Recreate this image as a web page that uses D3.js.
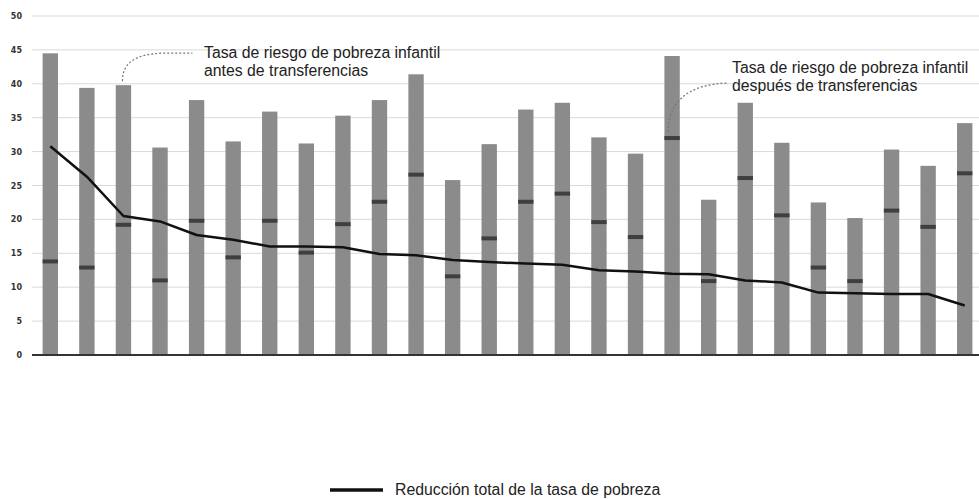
<!DOCTYPE html>
<html>
<head>
<meta charset="utf-8">
<script src="https://cdn.jsdelivr.net/npm/d3@7"></script>
<style>
  html, body { margin: 0; padding: 0; background: #fff; }
  svg { display: block; }
</style>
</head>
<body>
<svg id="chart" width="979" height="499"></svg>
<script>
// Data
const categories = ["c1","c2","c3","c4","c5","c6","c7","c8","c9","c10","c11","c12","c13","c14","c15","c16","c17","c18","c19","c20","c21","c22","c23","c24","c25","c26"];
const beforeTransfers = [44.5, 39.4, 39.8, 30.6, 37.6, 31.5, 35.9, 31.2, 35.3, 37.6, 41.4, 25.8, 31.1, 36.2, 37.2, 32.1, 29.7, 44.1, 22.9, 37.2, 31.3, 22.5, 20.2, 30.3, 27.9, 34.2];
const afterTransfers  = [13.8, 12.9, 19.2, 11.0, 19.8, 14.4, 19.8, 15.1, 19.3, 22.6, 26.6, 11.6, 17.2, 22.6, 23.8, 19.6, 17.4, 32.0, 10.9, 26.1, 20.6, 12.9, 10.9, 21.3, 18.9, 26.8];
const totalReduction  = [30.8, 26.3, 20.5, 19.7, 17.7, 17.0, 16.0, 16.0, 15.9, 14.9, 14.7, 14.0, 13.7, 13.5, 13.3, 12.5, 12.3, 12.0, 11.9, 11.0, 10.7, 9.2, 9.1, 9.0, 9.0, 7.3];
const yTicks = [0, 5, 10, 15, 20, 25, 30, 35, 40, 45, 50];
const legendLabel = "Reducción total de la tasa de pobreza";
const noteBefore = ["Tasa de riesgo de pobreza infantil", "antes de transferencias"];
const noteAfter = ["Tasa de riesgo de pobreza infantil", "después de transferencias"];

const svg = d3.select("#chart");
const font = "'Liberation Sans', Arial, Helvetica, sans-serif";

const x = d3.scaleBand().domain(categories).range([32, 983]).paddingInner(0.58).paddingOuter(0.29);
const y = d3.scaleLinear().domain([0, 50]).range([355, 16]);

// gridlines
svg.append("g").selectAll("line").data(yTicks.filter(d => d > 0)).join("line")
  .attr("x1", 32).attr("x2", 979)
  .attr("y1", d => y(d)).attr("y2", d => y(d))
  .attr("stroke", "#d9d9d9").attr("stroke-width", 1);

// y tick labels
svg.append("g").selectAll("text").data(yTicks).join("text")
  .attr("x", 22).attr("y", d => y(d) + 3)
  .attr("text-anchor", "end")
  .attr("font-family", "'DejaVu Sans', sans-serif").attr("font-size", 8).attr("font-weight", "bold")
  .attr("fill", "#333")
  .text(d => d);

// bars
svg.append("g").selectAll("rect").data(categories).join("rect")
  .attr("x", d => x(d)).attr("width", x.bandwidth())
  .attr("y", (d, i) => y(beforeTransfers[i]))
  .attr("height", (d, i) => y(0) - y(beforeTransfers[i]))
  .attr("fill", "#8b8b8b");

// after-transfer markers
svg.append("g").selectAll("rect").data(categories).join("rect")
  .attr("x", d => x(d)).attr("width", x.bandwidth())
  .attr("y", (d, i) => y(afterTransfers[i]) - 2)
  .attr("height", 4)
  .attr("fill", "#3f3f3f");

// axis baseline
svg.append("line").attr("x1", 32).attr("x2", 979).attr("y1", y(0)).attr("y2", y(0))
  .attr("stroke", "#333").attr("stroke-width", 2);

// line
const line = d3.line()
  .x((d, i) => x(categories[i]) + x.bandwidth() / 2)
  .y(d => y(d));
svg.append("path").datum(totalReduction)
  .attr("d", line).attr("fill", "none")
  .attr("stroke", "#111").attr("stroke-width", 2.5)
  .attr("stroke-linejoin", "round");

// annotations
function note(lines, tx, ty) {
  const t = svg.append("text").attr("font-family", font).attr("font-size", 15.8).attr("fill", "#222");
  lines.forEach((s, i) => t.append("tspan").attr("x", tx).attr("y", ty + i * 18).text(s));
}
// before-transfers leader line (from top of bar 3)
{
  const cx = x(categories[2]) + x.bandwidth() / 2 - 1;
  const cy = y(beforeTransfers[2]) - 4;
  const p = d3.path();
  p.moveTo(cx, cy);
  p.bezierCurveTo(cx, cy - 20, cx + 15, cy - 27, cx + 40, cy - 28);
  p.lineTo(cx + 70, cy - 28);
  svg.append("path").attr("d", p.toString()).attr("fill", "none")
    .attr("stroke", "#777").attr("stroke-width", 1.2).attr("stroke-dasharray", "2,2");
  note(noteBefore, 204, 58);
}
// after-transfers leader line (from marker of bar 18)
{
  const cx = x(categories[17]) + x.bandwidth() / 2 - 4;
  const cy = y(afterTransfers[17]) - 6;
  const p = d3.path();
  p.moveTo(cx, cy);
  p.bezierCurveTo(cx, cy - 30, cx + 20, cy - 48, cx + 60, cy - 49);
  svg.append("path").attr("d", p.toString()).attr("fill", "none")
    .attr("stroke", "#777").attr("stroke-width", 1.2).attr("stroke-dasharray", "2,2");
  note(noteAfter, 732, 73);
}

// legend
svg.append("line").attr("x1", 330).attr("x2", 383).attr("y1", 490).attr("y2", 490)
  .attr("stroke", "#111").attr("stroke-width", 3.5);
svg.append("text").attr("x", 395).attr("y", 495)
  .attr("font-family", font).attr("font-size", 15.8).attr("fill", "#222")
  .text(legendLabel);
</script>
</body>
</html>
